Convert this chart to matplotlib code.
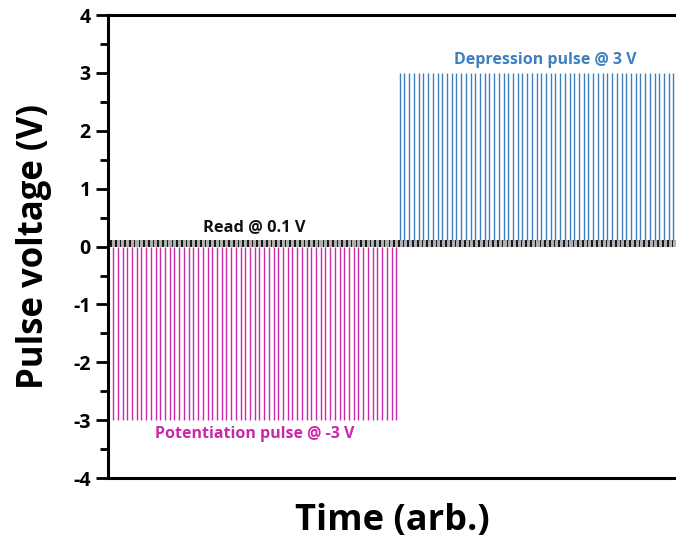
import numpy as np
import matplotlib.pyplot as plt

# pulse train: potentiation pulses then depression pulses
n_pot = 61
n_dep = 59
dep_start = 60.75
v_pot = -3.0
v_dep = 3.0
v_read = 0.1
read_height = 0.12

y_ticks = [-4, -3, -2, -1, 0, 1, 2, 3, 4]

pot_color = '#C72AA8'
dep_color = '#3F7FBF'

plt.rcParams['font.family'] = ['Open Sans', 'DejaVu Sans']
plt.rcParams['font.weight'] = 'bold'

fig = plt.figure(figsize=(6.76, 5.39), dpi=100)
ax = fig.add_axes([0.16, 0.113, 0.84, 0.859])

t_pot = np.arange(n_pot)
t_dep = dep_start + np.arange(n_dep)
t_read = np.arange(n_pot + n_dep)

# read band (gray background + black read pulses)
ax.fill_between([-0.6, 120], 0, read_height, color='#b0b0b0', lw=0, zorder=1)
ax.bar(t_read - 0.45, read_height, width=0.35, bottom=0, color='#1a1a1a', lw=0, zorder=2)

ax.vlines(t_pot, 0, v_pot, colors=pot_color, lw=1.0, zorder=3)
ax.vlines(t_dep, read_height, v_dep, colors=dep_color, lw=1.0, zorder=3)

ax.text(30, 0.2, 'Read @ 0.1 V', ha='center', va='bottom', fontsize=11.8, color='#111111', fontweight='bold')
ax.text(91.5, 3.08, 'Depression pulse @ 3 V', ha='center', va='bottom', fontsize=11.5, color=dep_color, fontweight='bold')
ax.text(30, -3.1, 'Potentiation pulse @ -3 V', ha='center', va='top', fontsize=11.5, color=pot_color, fontweight='bold')

ax.set_xlim(-1.06, 119.3)
ax.set_ylim(-4, 4)
ax.set_yticks(y_ticks)
ax.set_yticklabels([str(v) for v in y_ticks], fontsize=14, fontweight='bold')
ax.set_yticks(np.arange(-3.5, 4, 1.0), minor=True)
ax.tick_params(axis='y', which='major', direction='out', length=9, width=2)
ax.tick_params(axis='y', which='minor', direction='out', length=6, width=2)
ax.set_xticks([])

for side in ['left', 'bottom', 'top']:
    ax.spines[side].set_linewidth(2.2)
ax.spines['right'].set_visible(False)

ax.set_ylabel('Pulse voltage (V)', fontsize=25, fontweight='bold', labelpad=15)
ax.set_xlabel('Time (arb.)', fontsize=26, fontweight='bold', labelpad=18)

fig.savefig('out.png', dpi=100)
